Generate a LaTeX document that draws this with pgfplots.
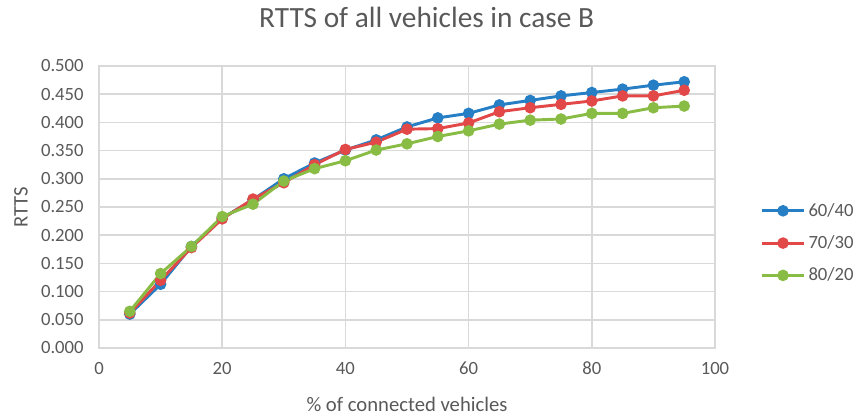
\documentclass[border=0pt]{standalone}
\usepackage{pgfplots}
\pgfplotsset{compat=1.18}
\usepackage{fontspec}
\setmainfont{Carlito}
\definecolor{cblue}{RGB}{38,126,196}
\definecolor{cred}{RGB}{226,72,72}
\definecolor{cgreen}{RGB}{137,188,68}
\definecolor{txt}{RGB}{89,89,89}
\definecolor{gridc}{RGB}{217,217,217}
\begin{document}
\begin{tikzpicture}
\useasboundingbox (-74.25pt,-51.75pt) rectangle (565.5pt,261pt);
\begin{axis}[
  scale only axis,
  width=462pt, height=211.5pt,
  xmin=0, xmax=100, ymin=0, ymax=0.5,
  xtick={0,20,...,100},
  ytick={0,0.05,...,0.501},
  /pgf/number format/assume math mode=true,
  yticklabel style={/pgf/number format/fixed,/pgf/number format/fixed zerofill,/pgf/number format/precision=3, xshift=-8pt},
  xticklabel style={yshift=-7pt},
  scaled y ticks=false,
  tick label style={font=\fontsize{14}{16}\selectfont, text=txt},
  major tick length=0pt,
  xmajorgrids, ymajorgrids,
  major grid style={draw=gridc, line width=1.1pt},
  axis line style={draw=gridc, line width=1.1pt},
  title={RTTS of all vehicles in case B},
  title style={font=\fontsize{22}{26}\selectfont, text=txt, at={(axis description cs:0.532,1.145)}, anchor=center},
  xlabel={\% of connected vehicles},
  xlabel style={font=\fontsize{15.5}{18}\selectfont, text=txt, at={(axis description cs:0.5,-0.199)}, anchor=center},
  ylabel={RTTS},
  ylabel style={font=\fontsize{15.5}{18}\selectfont, text=txt, at={(axis description cs:-0.1266,0.5)}, anchor=center},
  legend style={draw=none, fill=none, at={(axis description cs:1.073,0.372)}, anchor=west, font=\fontsize{14}{16}\selectfont, text=txt, row sep=9pt, inner sep=0pt, cells={anchor=west}},
  legend image code/.code={\draw[mark repeat=2,mark phase=2] plot coordinates {(0pt,0pt) (16pt,0pt) (32pt,0pt)};},
  every axis plot/.append style={line width=2.2pt, mark=*, mark size=3.2pt},
]
\addplot[color=cblue, mark options={fill=cblue, draw=cblue}] coordinates {
(5,0.060) (10,0.113) (15,0.180) (20,0.230) (25,0.263) (30,0.300) (35,0.328) (40,0.351)
(45,0.369) (50,0.392) (55,0.408) (60,0.416) (65,0.431) (70,0.439) (75,0.447) (80,0.453)
(85,0.459) (90,0.466) (95,0.472)};
\addlegendentry{60/40}
\addplot[color=cred, mark options={fill=cred, draw=cred}] coordinates {
(5,0.062) (10,0.120) (15,0.178) (20,0.229) (25,0.264) (30,0.293) (35,0.325) (40,0.352)
(45,0.365) (50,0.388) (55,0.389) (60,0.399) (65,0.419) (70,0.426) (75,0.432) (80,0.438)
(85,0.447) (90,0.447) (95,0.457)};
\addlegendentry{70/30}
\addplot[color=cgreen, mark options={fill=cgreen, draw=cgreen}] coordinates {
(5,0.065) (10,0.132) (15,0.180) (20,0.233) (25,0.255) (30,0.296) (35,0.318) (40,0.332)
(45,0.351) (50,0.362) (55,0.375) (60,0.385) (65,0.397) (70,0.404) (75,0.406) (80,0.416)
(85,0.416) (90,0.426) (95,0.429)};
\addlegendentry{80/20}
\end{axis}
\end{tikzpicture}
\end{document}
